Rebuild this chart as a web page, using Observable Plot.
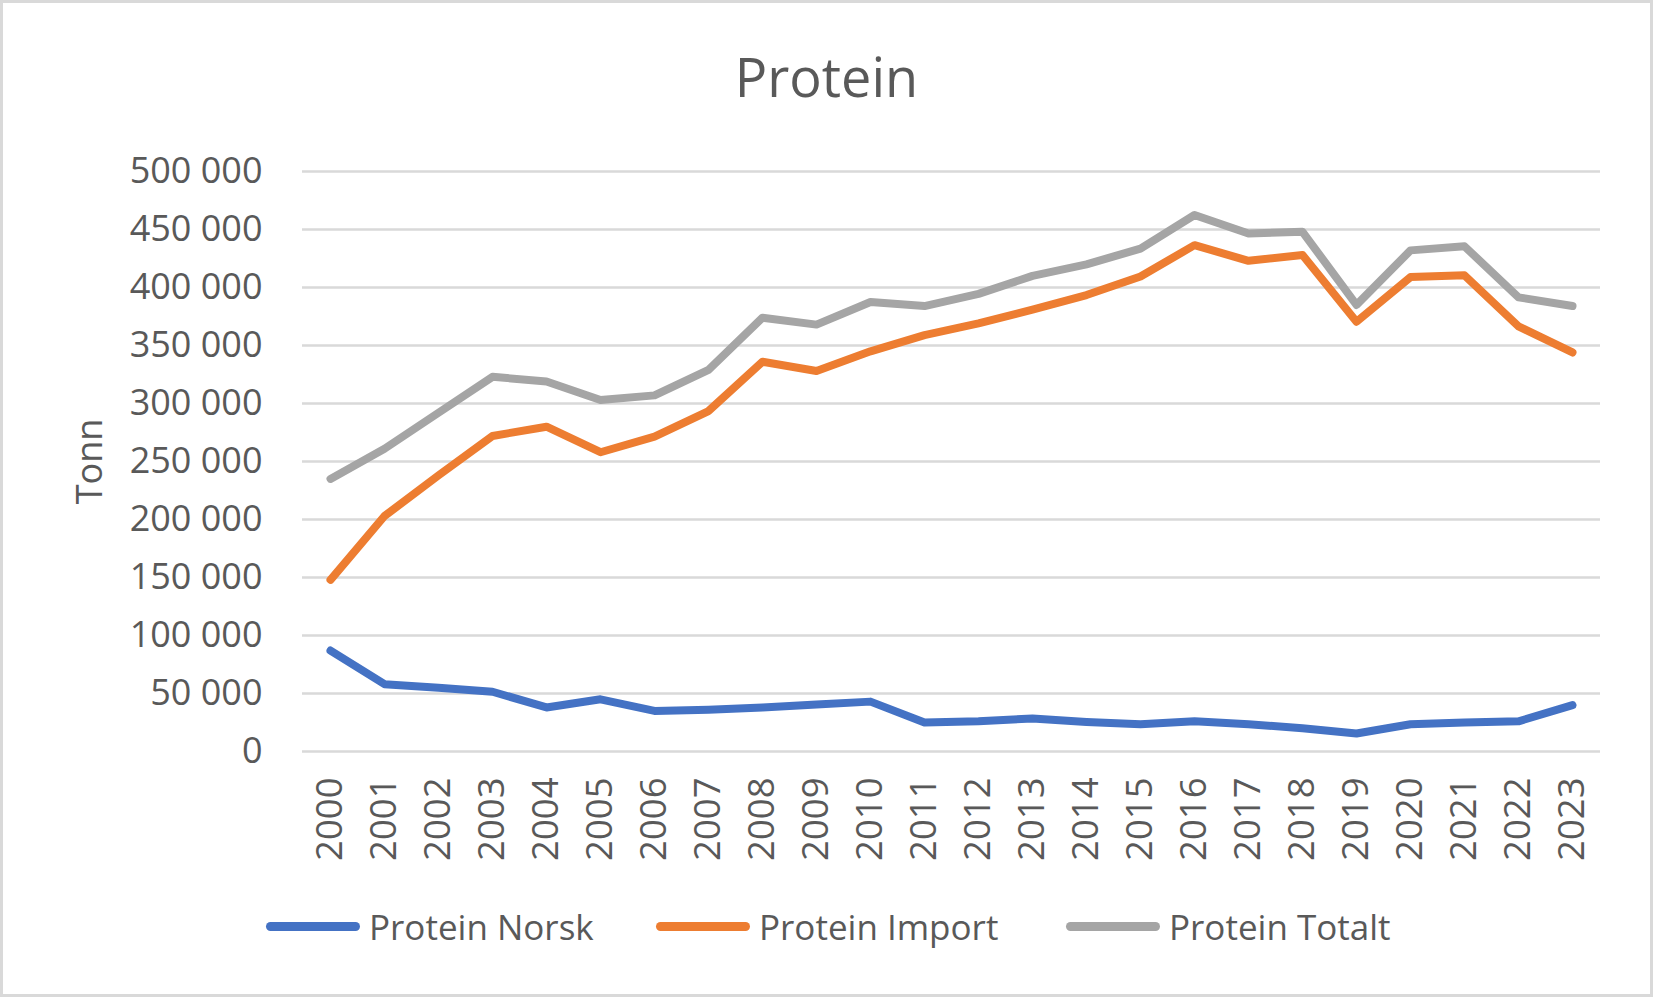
<!DOCTYPE html>
<html>
<head>
<meta charset="utf-8">
<script src="https://cdn.jsdelivr.net/npm/d3@7"></script>
<script src="https://cdn.jsdelivr.net/npm/@observablehq/plot@0.6"></script>
<style>
  html, body { margin: 0; padding: 0; background: #fff; }
  #wrap { position: relative; width: 1653px; height: 997px; background: #fff; overflow: hidden;
          font-family: "Open Sans", sans-serif; color: #595959; }
  #frame { position: absolute; left: 0; top: 0; width: 1653px; height: 997px; box-sizing: border-box;
           border: 3px solid #d9d9d9; pointer-events: none; }
  #title { position: absolute; left: 0; width: 1653px; top: 31px; text-align: center;
           font-size: 54px; line-height: 90px; color: #595959; }
  #chart { position: absolute; left: 0; top: 130px; }
  .leg { position: absolute; top: 903px; height: 46px; display: flex; align-items: center;
         font-size: 35px; color: #595959; white-space: nowrap; }
  .sw { width: 94px; height: 9px; border-radius: 5px; margin-right: 9px; }
</style>
</head>
<body>
<div id="wrap">
  <div id="title">Protein</div>
  <div id="chart"></div>
  <div id="legend"></div>
  <div id="frame"></div>
</div>
<script>
const years = ["2000","2001","2002","2003","2004","2005","2006","2007","2008","2009","2010","2011",
               "2012","2013","2014","2015","2016","2017","2018","2019","2020","2021","2022","2023"];
const proteinNorsk = [87000, 58000, 55000, 51500, 38000, 45000, 35000, 36000, 38000, 40500, 43000, 25000,
                      26000, 28500, 25500, 23500, 26000, 23500, 20000, 15500, 23500, 25000, 26000, 40000];
const proteinImport = [148000, 203000, 238000, 272000, 280000, 258000, 271500, 293500, 336000, 328000, 345000, 359000,
                       369000, 381000, 393500, 409500, 436500, 423000, 428000, 370500, 409000, 410500, 366500, 344000];
const proteinTotalt = [235000, 261000, 292000, 323000, 319000, 303000, 307000, 329000, 374000, 368000, 387500, 384000,
                       394500, 410000, 420000, 433500, 462500, 446500, 448000, 385000, 432000, 435500, 391500, 384000];
const seriesNames = ["Protein Norsk", "Protein Import", "Protein Totalt"];
const seriesColors = ["#4472C4", "#ED7D31", "#A5A5A5"];
const yTicks = [0, 50000, 100000, 150000, 200000, 250000, 300000, 350000, 400000, 450000, 500000];
const yTitle = "Tonn";

const seriesValues = [proteinNorsk, proteinImport, proteinTotalt];
const rows = [];
seriesNames.forEach((name, s) => {
  years.forEach((yr, i) => rows.push({ series: name, year: yr, value: seriesValues[s][i] }));
});

const fmt = v => d3.format(",")(v).replace(/,/g, " ");

const plot = Plot.plot({
  width: 1653,
  height: 760,
  marginLeft: 302,
  marginRight: 53,
  marginTop: 41,
  marginBottom: 139,
  style: { fontFamily: "Open Sans, sans-serif", fontSize: "36px", color: "#595959", background: "transparent" },
  x: { type: "point", domain: years, padding: 0.5 },
  y: { domain: [0, 500000] },
  color: { domain: seriesNames, range: seriesColors },
  marks: [
    Plot.gridY(yTicks, { stroke: "#d9d9d9", strokeOpacity: 1, strokeWidth: 2.5 }),
    Plot.axisY(yTicks, { tickSize: 0, tickPadding: 40, tickFormat: fmt, label: null, fill: "#595959", fontSize: 36 }),
    Plot.axisX({ tickSize: 0, tickPadding: 26, tickRotate: -90, label: null, fill: "#595959", fontSize: 36.5 }),
    Plot.line(rows, { x: "year", y: "value", z: "series", stroke: "series",
                      strokeWidth: 8, strokeLinejoin: "round", strokeLinecap: "round" }),
    Plot.text([yTitle], { frameAnchor: "left", textAnchor: "middle", dx: -212, rotate: -90, text: d => d,
                          fill: "#595959", fontSize: 36 })
  ]
});
document.getElementById("chart").appendChild(plot);

const legendPos = [266, 656, 1066];
const legend = document.getElementById("legend");
seriesNames.forEach((name, i) => {
  const item = document.createElement("div");
  item.className = "leg";
  item.style.left = legendPos[i] + "px";
  const sw = document.createElement("div");
  sw.className = "sw";
  sw.style.background = seriesColors[i];
  const lab = document.createElement("span");
  lab.textContent = name;
  item.appendChild(sw);
  item.appendChild(lab);
  legend.appendChild(item);
});
</script>
</body>
</html>
